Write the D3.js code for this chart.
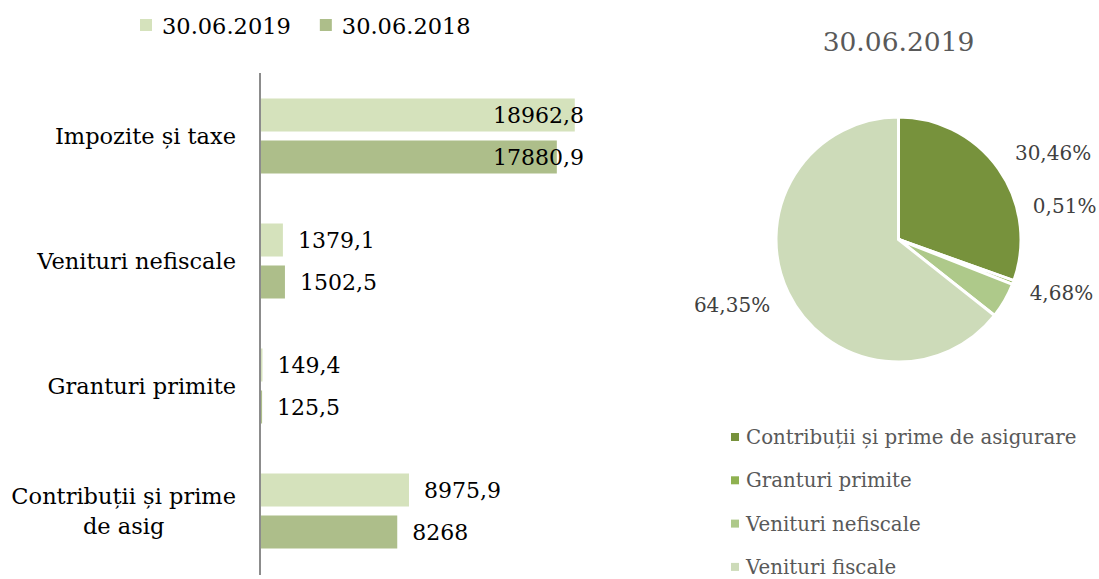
<!doctype html>
<html>
<head>
<script src="https://d3js.org/d3.v7.min.js"></script>
<style>
  body { margin: 0; background: #fff; }
  text { font-family: "DejaVu Serif", serif; }
</style>
</head>
<body>
<svg width="1099" height="579" id="chart"></svg>
<script>
// bar chart data
var categories = ["Impozite și taxe", "Venituri nefiscale", "Granturi primite", "Contribuții și prime de asig"];
var seriesNames = ["30.06.2019", "30.06.2018"];
var values2019 = [18962.8, 1379.1, 149.4, 8975.9];
var values2018 = [17880.9, 1502.5, 125.5, 8268];

// pie data (30.06.2019)
var pieTitle = "30.06.2019";
var pieCategories = ["Contribuții și prime de asigurare", "Granturi primite", "Venituri nefiscale", "Venituri fiscale"];
var pieValues = [8975.9, 149.4, 1379.1, 18962.8];

var svg = d3.select("svg");
var barColors = ["#d5e2bc", "#adbe8a"];
var pieColors = ["#77923c", "#8fb150", "#aec98a", "#cddbb9"];

function fmt(v) { return String(v).replace(".", ","); }

// ---- bar chart ----
var x = d3.scaleLinear().domain([0, 20000]).range([260, 592]);
var y = d3.scaleBand().domain(categories).range([73.5, 573.5]).paddingInner(0.4).paddingOuter(0.2);
var ySub = d3.scaleBand().domain(seriesNames).range([0, y.bandwidth()]).paddingInner(0.214);

var rows = [];
categories.forEach(function (c, i) {
  rows.push({ cat: c, s: seriesNames[0], v: values2019[i], color: barColors[0] });
  rows.push({ cat: c, s: seriesNames[1], v: values2018[i], color: barColors[1] });
});

svg.append("g").selectAll("rect")
  .data(rows).enter().append("rect")
  .attr("x", x(0))
  .attr("y", function (d) { return y(d.cat) + ySub(d.s); })
  .attr("width", function (d) { return x(d.v) - x(0); })
  .attr("height", ySub.bandwidth())
  .attr("fill", function (d) { return d.color; });

// value labels, kept inside the plot area at the right
var plotRight = 584;
svg.append("g").selectAll("text")
  .data(rows).enter().append("text")
  .attr("y", function (d) { return y(d.cat) + ySub(d.s) + ySub.bandwidth() / 2; })
  .attr("dy", "0.36em")
  .style("font-size", "22px")
  .attr("fill", "#000")
  .text(function (d) { return fmt(d.v); })
  .attr("x", function (d) {
    var w = this.getComputedTextLength();
    return Math.min(x(d.v) + 15, plotRight - w);
  });

// axis line
svg.append("line")
  .attr("x1", x(0)).attr("x2", x(0))
  .attr("y1", 73).attr("y2", 575)
  .attr("stroke", "#8c8c8c").attr("stroke-width", 2);

// category labels (wrap long ones)
function wrapLines(c) {
  return c.length > 20 ? ["Contribuții și prime", c.slice(21)] : [c];
}
categories.forEach(function (c) {
  var lines = wrapLines(c);
  var t = svg.append("text").style("font-size", "22.5px").attr("fill", "#000").attr("text-anchor", "middle");
  lines.forEach(function (l, i) {
    t.append("tspan").attr("x", 0).attr("dy", i === 0 ? "0.36em" : 30).text(l);
  });
  var w = d3.max(t.selectAll("tspan").nodes(), function (n) { return n.getComputedTextLength(); });
  var cy = y(c) + y.bandwidth() / 2 - (lines.length - 1) * 15;
  t.attr("transform", "translate(" + (236 - w / 2) + "," + cy + ")");
});

// top legend
var leg = svg.append("g");
var lx = 140;
seriesNames.forEach(function (s, i) {
  leg.append("rect").attr("x", lx).attr("y", 19).attr("width", 12).attr("height", 12).attr("fill", barColors[i]);
  var t = leg.append("text").attr("x", lx + 22).attr("y", 34).style("font-size", "22.5px").attr("fill", "#000").text(s);
  lx = lx + 22 + t.node().getComputedTextLength() + 29;
});

// ---- pie chart ----
var cx = 898.5, cy = 239.5, r = 122.5;
var total = d3.sum(pieValues);
var pie = d3.pie().sort(null).value(function (d) { return d; });
var arcs = pie(pieValues);
var arc = d3.arc().innerRadius(0).outerRadius(r);
var pg = svg.append("g").attr("transform", "translate(" + cx + "," + cy + ")");
pg.selectAll("path").data(arcs).enter().append("path")
  .attr("d", arc)
  .attr("fill", function (d, i) { return pieColors[i]; })
  .attr("stroke", "#fff").attr("stroke-width", 3);

// percentage labels, nudged apart like the original (degrees)
var labelShift = [6, -32, -11.7, 4.3];
var labelR = [177, 169.5, 171.5, 179];
function labelAngle(d, i) {
  return (d.startAngle + d.endAngle) / 2 + labelShift[i] * Math.PI / 180;
}
pg.selectAll("text.pct").data(arcs).enter().append("text")
  .attr("class", "pct")
  .attr("x", function (d, i) { return Math.sin(labelAngle(d, i)) * labelR[i]; })
  .attr("y", function (d, i) { return -Math.cos(labelAngle(d, i)) * labelR[i]; })
  .attr("dy", "0.36em")
  .attr("text-anchor", "middle")
  .style("font-size", "20px")
  .attr("fill", "#404040")
  .text(function (d) { return (d.value / total * 100).toFixed(2).replace(".", ",") + "%"; });

// pie title
svg.append("text").attr("x", cx).attr("y", 51).attr("text-anchor", "middle")
  .style("font-size", "26.5px").attr("fill", "#595959").text(pieTitle);

// pie legend
var pl = svg.append("g");
pieCategories.forEach(function (c, i) {
  var ry = 437 + i * 43.3;
  pl.append("rect").attr("x", 731).attr("y", ry - 4).attr("width", 8).attr("height", 8).attr("fill", pieColors[i]);
  pl.append("text").attr("x", 746).attr("y", ry).attr("dy", "0.36em")
    .style("font-size", "19.8px").attr("fill", "#595959").text(c);
});
</script>
</body>
</html>
